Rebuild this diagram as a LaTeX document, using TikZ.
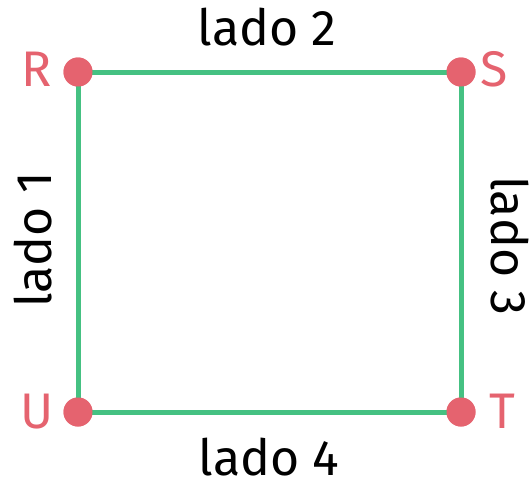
\documentclass[tikz,border=0pt]{standalone}
\usepackage{fontspec}
\setmainfont{Fira Sans}
\definecolor{verde}{HTML}{45C182}
\definecolor{rojo}{HTML}{E5636F}
\begin{document}
\begin{tikzpicture}[x=1pt,y=-1pt,line join=round,line cap=round,font=\fontsize{50}{54}\selectfont]
				\tikzset{vertice/.style={circle,fill=rojo,inner sep=0pt,minimum size=29pt},
					letra/.style={text=rojo,inner sep=0pt,anchor=base},
					lado/.style={inner sep=0pt,anchor=base}}
				\useasboundingbox (0,0) rectangle (531,485);
				\node[vertice] (R) at (78,72) {};
				\node[vertice] (S) at (461,72) {};
				\node[vertice] (T) at (461,412) {};
				\node[vertice] (U) at (78,412) {};
				\draw[verde,line width=5pt] (R.center)--(S.center)--(T.center)--(U.center)--cycle;
				\foreach \v in {R,S,T,U}
				\node[vertice] at (\v) {};
				\node[letra] (lR) at (37,86) {R};
				\node[letra] (lS) at (494,86) {S};
				\node[letra] (lT) at (502,428) {T};
				\node[letra] (lU) at (37,428) {U};
				\node[lado] (l2) at (267,45) {lado 2};
				\node[lado] (l4) at (269,475) {lado 4};
				\node[lado,rotate=90] (l1) at (52,240) {lado 1};
				\node[lado,rotate=-90] (l3) at (491,246) {lado 3};
			\end{tikzpicture}
\end{document}
